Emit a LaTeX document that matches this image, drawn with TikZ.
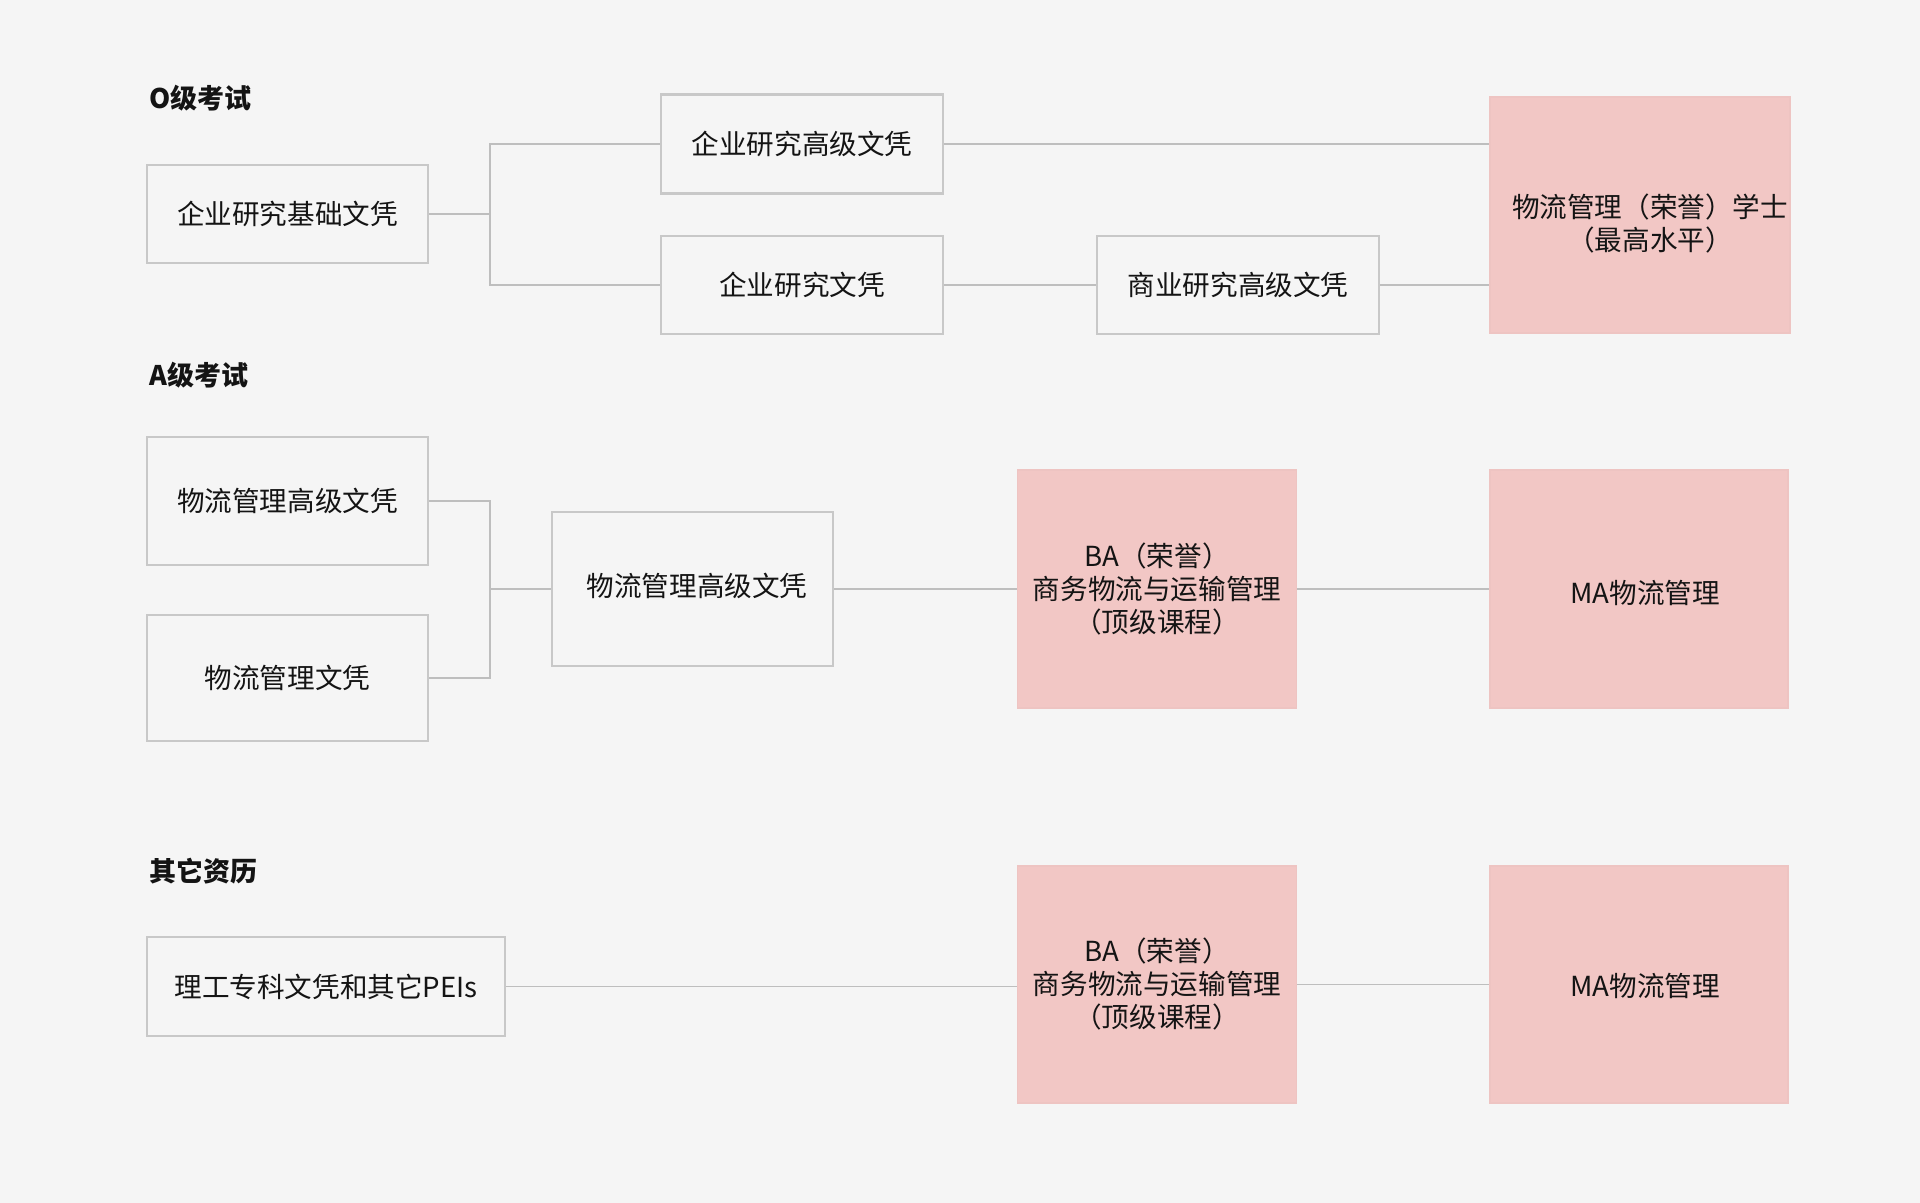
\documentclass[tikz,border=0pt]{standalone}
\usepackage{fontspec}
\setmainfont{Noto Sans CJK SC}
\definecolor{bgc}{RGB}{245,245,245}
\definecolor{boxline}{RGB}{200,200,200}
\definecolor{conn}{RGB}{190,190,190}
\definecolor{pinkc}{RGB}{242,199,197}
\definecolor{pinkline}{RGB}{238,196,194}
\definecolor{txt}{RGB}{20,20,20}
\begin{document}
\begin{tikzpicture}[x=0.5pt,y=-0.5pt,
  every node/.style={text=txt, font=\fontsize{13.8pt}{16.5pt}\selectfont, align=center, inner sep=0pt},
  plainbox/.style={draw=boxline, line width=1.2pt, fill=bgc},
  pinkbox/.style={draw=pinkline, line width=0.8pt, fill=pinkc},
  heading/.style={anchor=west, font=\bfseries\fontsize{13.5pt}{16pt}\selectfont},
  link/.style={draw=conn, line width=0.9pt}]
\fill[bgc] (0,0) rectangle (1920,1203);
\useasboundingbox (0,0) rectangle (1920,1203);

% headings
\node[heading] (hO) at (149,98) {O级考试};
\node[heading] (hA) at (149,375) {A级考试};
\node[heading] (hX) at (149,871) {其它资历};

% O-level section
\node[plainbox, minimum width=140.5pt, minimum height=49pt] (base) at (287.5,214) {企业研究基础文凭};
\node[plainbox, minimum width=141pt, minimum height=49.5pt] (hi) at (802,144) {企业研究高级文凭};
\node[plainbox, minimum width=141pt, minimum height=49pt] (dip) at (802,285) {企业研究文凭};
\node[plainbox, minimum width=141pt, minimum height=49pt] (bus) at (1238,285) {商业研究高级文凭};
\node[pinkbox, minimum width=150pt, minimum height=118pt] (bach) at (1640,215) {};
\node (bachtxt) at (1650,224) {物流管理（荣誉）学士\\（最高水平）};
\coordinate (b1) at (490,214);

\draw[link] (base.east) -- (b1);
\draw[link] (hi.west) -| (b1) |- (dip.west);
\draw[link] (hi.east) -- (hi.east -| bach.west);
\draw[link] (dip.east) -- (bus.west);
\draw[link] (bus.east) -- (bus.east -| bach.west);

% A-level section
\node[plainbox, minimum width=140.5pt, minimum height=64pt] (la) at (287.5,501) {物流管理高级文凭};
\node[plainbox, minimum width=140.5pt, minimum height=63pt] (ld) at (287.5,678) {物流管理文凭};
\node[plainbox, minimum width=140.5pt, minimum height=77pt] (mid) at (692.5,589) {};
\node (midtxt) at (697,586) {物流管理高级文凭};
\node[pinkbox, minimum width=139.5pt, minimum height=119pt] (ba1) at (1157,589) {BA（荣誉）\\商务物流与运输管理\\（顶级课程）};
\node[pinkbox, minimum width=149pt, minimum height=119pt] (ma1) at (1639,589) {};
\node (ma1txt) at (1645,593) {MA物流管理};
\coordinate (b2) at (490,589);

\draw[link] (la.east) -| (b2) |- (ld.east);
\draw[link] (b2) -- (mid.west);
\draw[link] (mid.east) -- (ba1.west);
\draw[link] (ba1.east) -- (ma1.west);

% Other qualifications
\node[plainbox, minimum width=179pt, minimum height=49.5pt] (pei) at (326,986.5) {理工专科文凭和其它PEIs};
\node[pinkbox, minimum width=139.5pt, minimum height=118.5pt] (ba2) at (1157,984.5) {BA（荣誉）\\商务物流与运输管理\\（顶级课程）};
\node[pinkbox, minimum width=149pt, minimum height=118.5pt] (ma2) at (1639,984.5) {};
\node (ma2txt) at (1645,986) {MA物流管理};

\draw[link] (pei.east) -- (pei.east -| ba2.west);
\draw[link] (ba2.east) -- (ma2.west);
\end{tikzpicture}
\end{document}
